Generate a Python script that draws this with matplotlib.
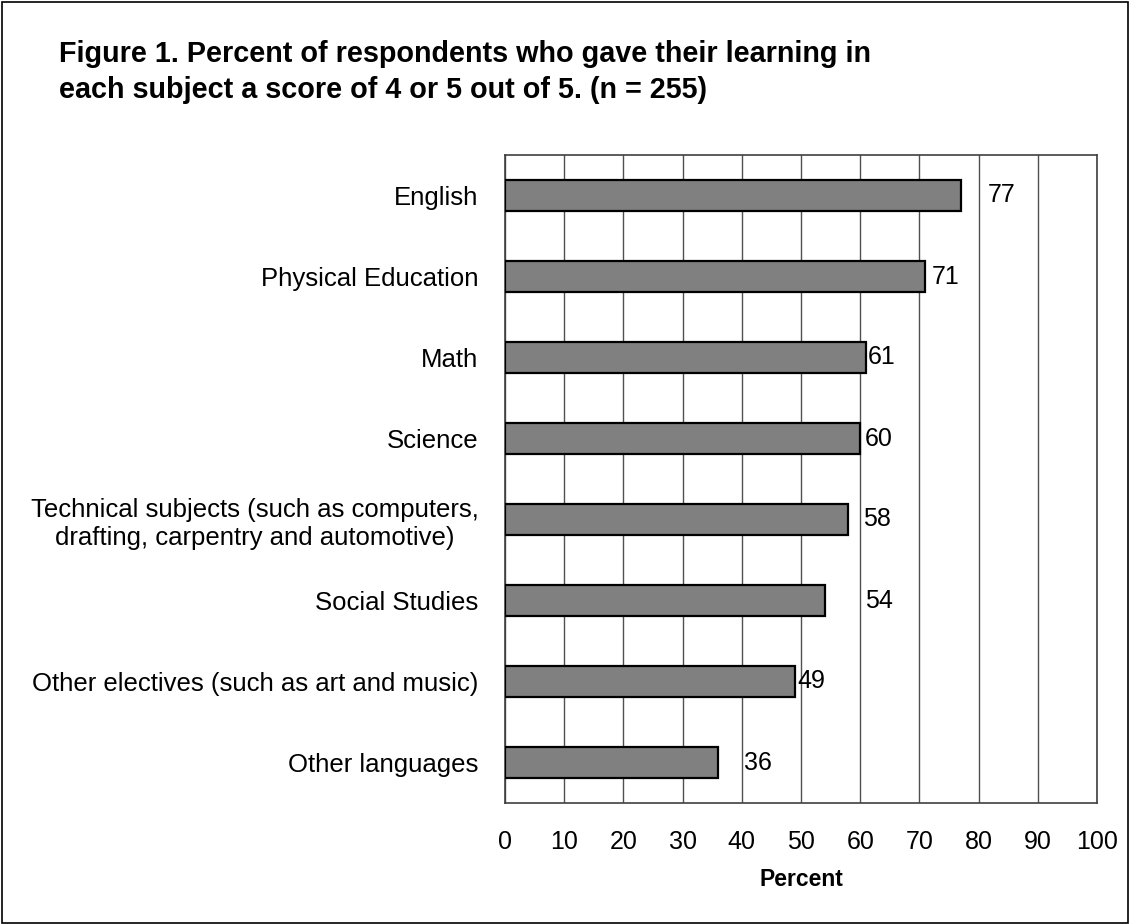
import matplotlib
matplotlib.use("Agg")
import matplotlib.pyplot as plt
from matplotlib.patches import Rectangle

plt.rcParams['font.family'] = ['Liberation Sans', 'DejaVu Sans']

categories = [
    "English",
    "Physical Education",
    "Math",
    "Science",
    "Technical subjects (such as computers,\ndrafting, carpentry and automotive)",
    "Social Studies",
    "Other electives (such as art and music)",
    "Other languages",
]
values = [77, 71, 61, 60, 58, 54, 49, 36]
x_ticks = [0, 10, 20, 30, 40, 50, 60, 70, 80, 90, 100]
title_lines = [
    "Figure 1. Percent of respondents who gave their learning in",
    "each subject a score of 4 or 5 out of 5. (n = 255)",
]
x_label = "Percent"

# layout: x position (data units) for value label centres, as in the original
label_x = [83.9, 74.5, 63.6, 63.1, 62.8, 63.1, 51.8, 42.8]

W, H = 1129, 924
fig = plt.figure(figsize=(W / 100, H / 100), dpi=100)
fig.patches.append(Rectangle((1.5 / W, 1.5 / H), 1 - 3 / W, 1 - 3 / H, transform=fig.transFigure,
                             fill=False, edgecolor='black', linewidth=1.2))

left, right, top, bottom = 505, 1097, 155, 803
ax = fig.add_axes([left / W, 1 - bottom / H, (right - left) / W, (bottom - top) / H])
ypos = list(range(len(categories)))
ax.barh(ypos, values, height=0.39, color='#808080', edgecolor='black', linewidth=1.6, zorder=3)
ax.set_ylim(len(categories) - 0.5, -0.5)
ax.set_xlim(0, 100)
ax.set_xticks(x_ticks)
ax.set_xticklabels([str(t) for t in x_ticks], fontsize=18)
ax.set_yticks(ypos)
ax.set_yticklabels(categories, fontsize=18.5)
for lab in ax.get_yticklabels():
    lab.set_multialignment('center')
ax.tick_params(axis='both', length=0)
ax.tick_params(axis='y', pad=19)
ax.tick_params(axis='x', pad=19.5)
ax.grid(axis='x', color='#505050', linewidth=1.0, zorder=0)
ax.set_axisbelow(True)
for s in ax.spines.values():
    s.set_color('#404040')
    s.set_linewidth(1.2)

for y, v, lx in zip(ypos, values, label_x):
    ax.text(lx, y, str(v), ha='center', va='center', fontsize=18, zorder=4)

ax.set_xlabel(x_label, fontsize=16.5, fontweight='bold', labelpad=10)

title_baselines = [62, 98]
for line, yb in zip(title_lines, title_baselines):
    fig.text(59 / W, 1 - yb / H, line, fontsize=20.7, fontweight='bold',
             ha='left', va='baseline')

fig.savefig("out.png", dpi=100)
